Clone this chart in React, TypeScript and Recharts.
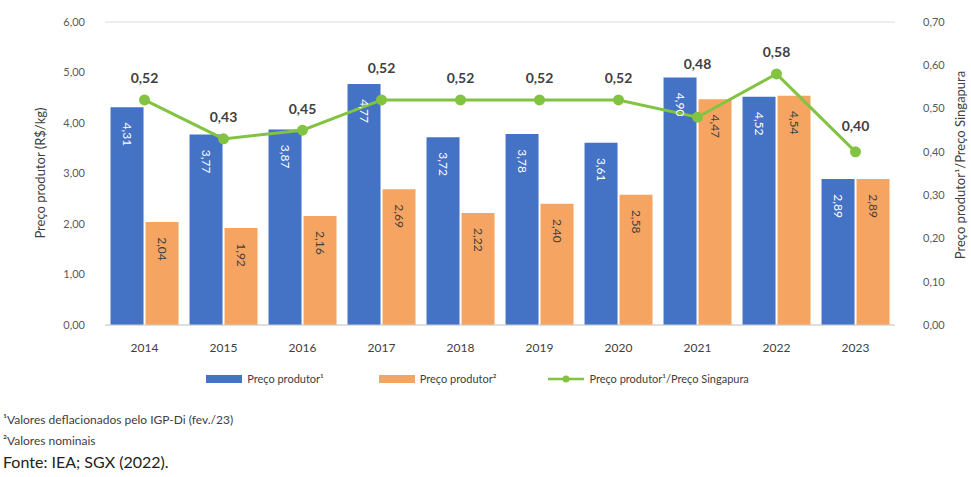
import React from "react";
import {
  ComposedChart,
  Bar,
  Line,
  XAxis,
  YAxis,
  CartesianGrid,
  LabelList,
} from "recharts";

const years = ["2014", "2015", "2016", "2017", "2018", "2019", "2020", "2021", "2022", "2023"];
const precoDeflacionado = [4.31, 3.77, 3.87, 4.77, 3.72, 3.78, 3.61, 4.9, 4.52, 2.89];
const precoNominal = [2.04, 1.92, 2.16, 2.69, 2.22, 2.4, 2.58, 4.47, 4.54, 2.89];
const razaoSingapura = [0.52, 0.43, 0.45, 0.52, 0.52, 0.52, 0.52, 0.48, 0.58, 0.4];
const leftTicks = [0, 1, 2, 3, 4, 5, 6];
const rightTicks = [0, 0.1, 0.2, 0.3, 0.4, 0.5, 0.6, 0.7];

// extra lift for labels that were moved above the bars in the original
const labelLift = [0, 0, 0, 10, 0, 0, 0, 32, 0, 4];

const BLUE = "#4472c4";
const ORANGE = "#f6a461";
const GREEN = "#82c341";
const FONT = "Lato, 'Liberation Sans', sans-serif";

const data = years.map((y, i) => ({
  year: y,
  real: precoDeflacionado[i],
  nominal: precoNominal[i],
  ratio: razaoSingapura[i],
}));

const fmt = (v: number) => v.toFixed(2).replace(".", ",");

const barLabel = (color: string) => (props: any) => {
  const { x, y, width, value } = props;
  const cx = x + width / 2;
  const cy = y + 27;
  return (
    <text
      x={cx}
      y={cy}
      transform={`rotate(90 ${cx} ${cy})`}
      textAnchor="middle"
      dominantBaseline="central"
      fill={color}
      fontSize={12}
      fontFamily={FONT}
    >
      {fmt(value)}
    </text>
  );
};

const lineLabel = (props: any) => {
  const { x, y, value, index } = props;
  return (
    <text
      x={x}
      y={y - 22 - (labelLift[index] || 0)}
      textAnchor="middle"
      dominantBaseline="central"
      fill="#404040"
      fontSize={14}
      fontWeight={700}
      fontFamily={FONT}
    >
      {fmt(value)}
    </text>
  );
};

export default function App() {
  return (
    <div style={{ position: "absolute", left: 0, top: 0, width: 971, height: 477, background: "#fff", fontFamily: FONT }}>
      <ComposedChart
        width={971}
        height={370}
        data={data}
        margin={{ top: 22, right: 0, left: 0, bottom: 15 }}
        barCategoryGap="7%"
        barGap={2}
      >
        <CartesianGrid vertical={false} stroke="#dcdcdc" />
        <XAxis
          dataKey="year"
          height={30}
          tickLine={false}
          axisLine={{ stroke: "#d0d0d0" }}
          tick={{ fill: "#404040", fontSize: 12, fontFamily: FONT }}
          tickMargin={12}
        />
        <YAxis
          yAxisId="left"
          width={105}
          domain={[0, 6]}
          ticks={leftTicks}
          tickFormatter={fmt}
          axisLine={false}
          tickLine={false}
          tickMargin={14}
          tick={{ fill: "#595959", fontSize: 11, fontFamily: FONT }}
        />
        <YAxis
          yAxisId="right"
          orientation="right"
          width={76}
          domain={[0, 0.7]}
          ticks={rightTicks}
          tickFormatter={fmt}
          axisLine={false}
          tickLine={false}
          tickMargin={22}
          tick={{ fill: "#595959", fontSize: 11, fontFamily: FONT }}
        />
        <Bar yAxisId="left" dataKey="real" fill={BLUE} isAnimationActive={false}>
          <LabelList dataKey="real" content={barLabel("#ffffff")} />
        </Bar>
        <Bar yAxisId="left" dataKey="nominal" fill={ORANGE} isAnimationActive={false}>
          <LabelList dataKey="nominal" content={barLabel("#404040")} />
        </Bar>
        <Line
          yAxisId="right"
          dataKey="ratio"
          stroke={GREEN}
          strokeWidth={3}
          dot={{ r: 4, fill: GREEN, stroke: GREEN }}
          isAnimationActive={false}
        >
          <LabelList dataKey="ratio" content={lineLabel} />
        </Line>
      </ComposedChart>

      <div
        style={{
          position: "absolute",
          left: 40,
          top: 173,
          transform: "translate(-50%, -50%) rotate(-90deg)",
          whiteSpace: "nowrap",
          fontSize: 13,
          color: "#404040",
        }}
      >
        Preço produtor (R$/kg)
      </div>
      <div
        style={{
          position: "absolute",
          left: 960,
          top: 165,
          transform: "translate(-50%, -50%) rotate(-90deg)",
          whiteSpace: "nowrap",
          fontSize: 13,
          color: "#404040",
        }}
      >
        Preço produtor¹/Preço Singapura
      </div>

      <div style={{ position: "absolute", top: 372, left: -8, width: 971, display: "flex", justifyContent: "center", fontSize: 11, color: "#404040", alignItems: "center" }}>
        <span style={{ display: "inline-block", width: 36, height: 8, background: BLUE, marginRight: 5 }} />
        <span style={{ marginRight: 55 }}>Preço produtor¹</span>
        <span style={{ display: "inline-block", width: 36, height: 8, background: ORANGE, marginRight: 5 }} />
        <span style={{ marginRight: 52 }}>Preço produtor²</span>
        <svg width={36} height={10} style={{ marginRight: 5 }}>
          <line x1={0} y1={5} x2={36} y2={5} stroke={GREEN} strokeWidth={2.5} />
          <circle cx={18} cy={5} r={3.5} fill={GREEN} />
        </svg>
        <span>Preço produtor¹/Preço Singapura</span>
      </div>

      <div style={{ position: "absolute", left: 3, top: 412, fontSize: 12, color: "#404040" }}>
        ¹Valores deflacionados pelo IGP-Di (fev./23)
      </div>
      <div style={{ position: "absolute", left: 3, top: 433, fontSize: 12, color: "#404040" }}>
        ²Valores nominais
      </div>
      <div style={{ position: "absolute", left: 3, top: 452, fontSize: 16, color: "#222" }}>
        Fonte: IEA; SGX (2022).
      </div>
    </div>
  );
}
